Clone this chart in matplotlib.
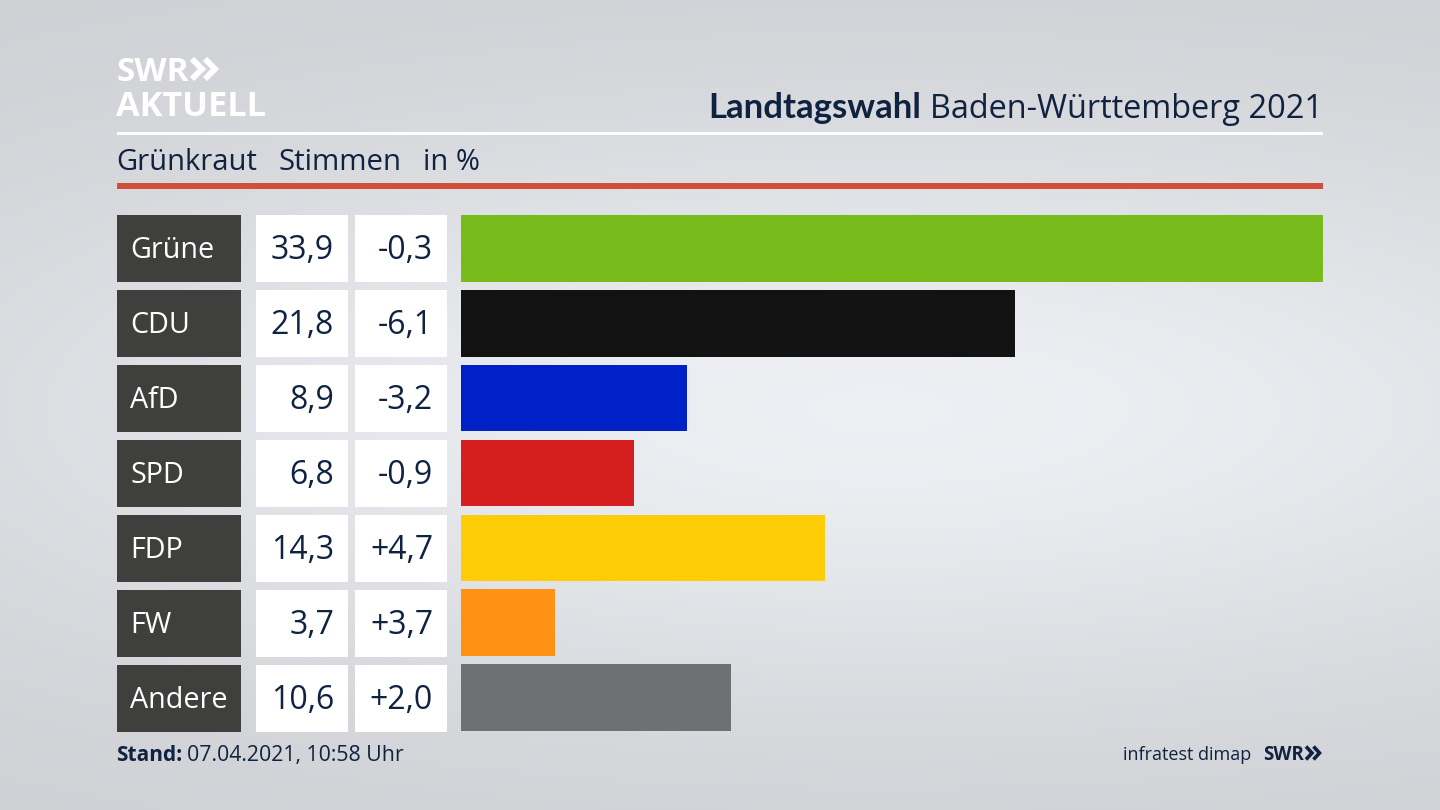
import numpy as np
import matplotlib
matplotlib.use('Agg')
import matplotlib.pyplot as plt
from matplotlib.patches import Rectangle

parties = ['Grüne', 'CDU', 'AfD', 'SPD', 'FDP', 'FW', 'Andere']
votes = [33.9, 21.8, 8.9, 6.8, 14.3, 3.7, 10.6]
vote_labels = ['33,9', '21,8', '8,9', '6,8', '14,3', '3,7', '10,6']
diff_labels = ['-0,3', '-6,1', '-3,2', '-0,9', '+4,7', '+3,7', '+2,0']
colors = ['#78bc1b', '#121212', '#0021c8', '#d51f1f', '#ffcc08', '#ff9115', '#6f7072']

NAVY = '#0f2240'
plt.rcParams['font.family'] = ['Open Sans', 'DejaVu Sans']


def chevrons(axis, x, y, h, w, gap, lw, color):
    # the two arrows of the SWR logo
    for dx in (0, gap):
        axis.plot([x + dx, x + dx + w, x + dx], [y - h / 2, y, y + h / 2], color=color, lw=lw,
                  solid_joinstyle='miter', solid_capstyle='butt')


fig = plt.figure(figsize=(14.4, 8.1), dpi=100)

# background in pixel coordinates
bg = fig.add_axes([0, 0, 1, 1])
yy, xx = np.mgrid[0:810, 0:1440]
glow = np.exp(-(((xx - 880) / 950.0) ** 2 + ((yy - 410) / 290.0) ** 2))
shade = 0.805 + 0.125 * glow
img = np.dstack([shade, shade + 0.008, shade + 0.025])
bg.imshow(np.clip(img, 0, 1), extent=(0, 1440, 810, 0), aspect='auto', zorder=0)
bg.set_xlim(0, 1440)
bg.set_ylim(810, 0)
bg.axis('off')

# logo and headers
bg.text(117, 81, 'SWR', fontsize=24, fontweight='bold', color='white', va='baseline', ha='left')
chevrons(bg, 192, 69, 20, 10, 13, 4.2, 'white')
bg.text(116, 116, 'AKTUELL', fontsize=24.7, fontweight='bold', color='white', va='baseline', ha='left')
bg.text(1323, 118, 'Baden-Württemberg 2021', fontsize=23.4, color=NAVY, va='baseline', ha='right')
bg.text(921, 118, 'Landtagswahl', fontsize=25, family=['Lato', 'DejaVu Sans'], fontweight='bold', color=NAVY,
        va='baseline', ha='right')
bg.add_patch(Rectangle((117, 132), 1206, 3, color='white', lw=0))
bg.text(116, 170, 'Grünkraut', fontsize=21, color=NAVY, va='baseline')
bg.text(279, 170, 'Stimmen', fontsize=21.2, color=NAVY, va='baseline')
bg.text(423, 170, 'in %', fontsize=21, color=NAVY, va='baseline')
bg.add_patch(Rectangle((117, 183), 1206, 6, color='#cf4f38', lw=0))

# rows
tops = 215 + 75 * np.arange(len(parties))
for i, top in enumerate(tops):
    bg.add_patch(Rectangle((117, top), 124, 67, color='#3f3f3e', lw=0))
    bg.add_patch(Rectangle((256, top), 92, 67, color='white', lw=0))
    bg.add_patch(Rectangle((355, top), 92, 67, color='white', lw=0))
    bg.text(130, top + 43, parties[i], fontsize=20.7, color='white', va='baseline')
    bg.text(334, top + 44, vote_labels[i], fontsize=23, color=NAVY, va='baseline', ha='right')
    bg.text(433, top + 44, diff_labels[i], fontsize=23, color=NAVY, va='baseline', ha='right')

# bars on their own axes, 33.9 fills the full width
ax = fig.add_axes([461 / 1440, 1 - 731 / 810, (1323 - 461) / 1440, (731 - 215) / 810])
ax.patch.set_alpha(0)
ax.barh(np.arange(len(parties)), votes, height=66.8 / 75, color=colors)
ax.set_xlim(0, 33.9)
ax.set_ylim(6 + 33.5 / 75, -33.5 / 75)
ax.axis('off')

# footer
bg.text(116, 761, 'Stand:', fontsize=15, fontweight='bold', color=NAVY, va='baseline')
bg.text(187, 761, '07.04.2021, 10:58 Uhr', fontsize=15.3, color=NAVY, va='baseline')
bg.text(1251, 760, 'infratest dimap', fontsize=13, color=NAVY, va='baseline', ha='right')
bg.text(1263, 760, 'SWR', fontsize=13.5, fontweight='bold', color=NAVY, va='baseline')
chevrons(bg, 1306, 753, 13, 6, 7.5, 2.6, NAVY)

fig.savefig('out.png', dpi=100)
